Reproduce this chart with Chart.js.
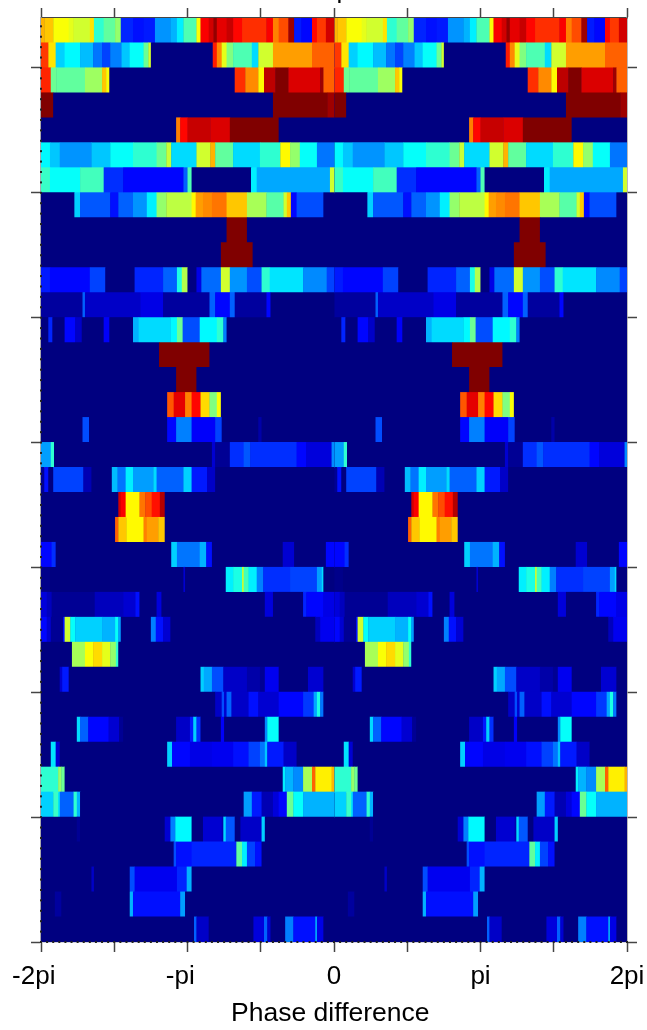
<!DOCTYPE html>
<html lang="en">
<head>
    <meta charset="UTF-8" />
    <title>Phase difference</title>
    <script src="https://cdn.jsdelivr.net/npm/chart.js"></script>
    <style>
        html, body { margin: 0; padding: 0; background: #fff; overflow: hidden; }
        canvas { display: block; filter: blur(0.6px); }
    </style>
</head>
<body>
    <canvas id="phaseChart" width="647" height="1030"></canvas>

    <script>
        // x axis, degrees (labelled in pi)
        const phaseMin = -360;
        const phaseMax = 360;
        const phaseStep = 90;
        const tickLabels = { '-360': '-2pi  ', '-180': '-pi  ', '0': '0', '180': 'pi', '360': '2pi' };

        const rowTicks = 5;
        const cutTitle = 'p';

        // each row, top to bottom: [phase where the run starts (0-360), level 0-100]
        // one period only, the plot shows it twice
        const row01 = [[0,70],[4,68],[15,62],[34,60],[40,58],[60,65],[65,42],[77,47],[91,52],[98,16],[113,14],[126,15],[140,27],[159,30],[167,36],[175,45],[191,62],[196,88],[206,92],[212,98],[216,90],[228,93],[236,87],[247,83],[277,88],[285,75],[292,80],[304,97],[311,15],[320,13],[333,87],[339,82],[350,92]];
        const row02 = [[0,82],[9,65],[18,33],[29,37],[48,31],[64,24],[75,19],[85,25],[99,32],[109,38],[126,48],[132,58],[135,0],[211,85],[216,74],[222,60],[228,50],[236,45],[259,34],[267,58],[285,72],[333,78]];
        const row03 = [[0,84],[12,48],[19,47],[54,53],[75,68],[80,62],[84,0],[238,83],[251,74],[267,63],[274,94],[288,100],[304,91],[343,97],[347,78]];
        const row04 = [[0,100],[15,0],[285,100],[352,97]];
        const row05 = [[0,0],[166,75],[171,87],[180,93],[208,91],[232,100],[292,0]];
        const row06 = [[0,37],[11,32],[23,27],[62,32],[85,38],[113,42],[142,48],[154,57],[160,34],[191,58],[208,70],[214,47],[236,34],[269,42],[294,63],[306,52],[318,38],[339,24]];
        const row07 = [[0,43],[11,38],[48,44],[77,17],[101,13],[175,22],[180,45],[185,0],[258,36],[265,29],[355,58]];
        const row08 = [[0,0],[41,33],[48,21],[85,14],[95,22],[113,27],[130,36],[142,52],[154,56],[185,63],[190,72],[199,74],[210,76],[228,68],[253,54],[277,46],[298,58],[302,68],[307,13],[314,20],[347,0]];
        const row09 = [[0,0],[228,100],[253,0]];
        const row10 = [[0,0],[221,100],[260,0]];
        const row11 = [[0,15],[11,13],[60,19],[79,0],[115,16],[150,22],[167,40],[173,55],[180,0],[191,10],[197,23],[221,58],[232,27],[253,20],[271,42],[281,35],[322,26],[351,19]];
        const row12 = [[0,3],[51,22],[54,7],[122,10],[150,3],[207,22],[214,13],[232,22],[238,3],[277,13],[282,0]];
        const row13 = [[0,0],[9,16],[14,0],[29,13],[42,7],[50,0],[77,12],[84,0],[113,30],[120,34],[159,37],[167,48],[174,20],[195,37],[216,42],[224,25],[228,0]];
        const row14 = [[0,0],[145,100],[207,0]];
        const row15 = [[0,0],[166,100],[191,0]];
        const row16 = [[0,0],[155,79],[163,90],[177,75],[185,87],[196,66],[207,50],[216,62],[221,0]];
        const row17 = [[0,0],[51,20],[59,0],[155,13],[166,25],[185,12],[214,19],[222,0],[267,4],[271,0]];
        const row18 = [[0,28],[12,42],[16,0],[210,8],[214,2],[232,17],[249,21],[257,17],[314,13],[326,9],[357,26]];
        const row19 = [[0,2],[4,14],[9,0],[15,19],[52,5],[62,0],[87,31],[94,24],[104,36],[113,28],[138,34],[142,22],[175,33],[185,15],[204,7],[214,0]];
        const row20 = [[0,0],[95,92],[98,88],[104,63],[121,76],[128,80],[136,86],[146,95],[152,0]];
        const row21 = [[0,0],[91,78],[95,68],[105,63],[126,75],[130,72],[144,68],[152,0]];
        const row22 = [[0,13],[13,17],[18,0],[160,33],[167,24],[195,30],[203,14],[210,0],[297,8],[311,0],[350,13]];
        const row23 = [[0,1],[11,0],[175,8],[177,0],[227,36],[236,40],[247,58],[249,44],[255,36],[265,25],[273,17],[306,19],[339,28],[345,34],[347,0]];
        const row24 = [[0,9],[7,6],[13,2],[66,6],[101,8],[116,14],[121,0],[142,9],[148,0],[275,9],[285,0],[322,16],[326,13],[347,10]];
        const row25 = [[0,13],[7,8],[12,2],[27,14],[29,58],[36,38],[42,33],[75,30],[91,38],[95,28],[98,0],[135,25],[141,14],[150,8],[159,0],[337,6],[343,11]];
        const row26 = [[0,0],[38,54],[54,62],[64,66],[75,60],[85,52],[92,42],[95,0]];
        const row27 = [[0,0],[23,8],[26,15],[34,0],[196,33],[200,29],[210,20],[224,7],[253,4],[269,2],[275,11],[292,0],[328,8],[347,0]];
        const row28 = [[0,0],[214,7],[222,20],[225,8],[228,22],[234,7],[255,14],[267,8],[292,13],[322,18],[335,29],[339,40],[343,24],[347,0]];
        const row29 = [[0,0],[44,34],[48,22],[58,13],[83,8],[96,2],[101,0],[166,7],[183,15],[187,33],[191,17],[196,0],[221,12],[225,0],[275,26],[278,38],[292,0]];
        const row30 = [[0,0],[12,35],[18,8],[23,0],[155,33],[161,13],[183,10],[210,11],[236,14],[255,19],[269,24],[275,32],[278,15],[298,7],[314,0]];
        const row31 = [[0,42],[21,52],[25,48],[29,0],[297,36],[300,30],[310,26],[322,54],[333,78],[337,64],[357,70]];
        const row32 = [[0,33],[15,43],[21,36],[23,22],[40,42],[44,30],[48,0],[249,28],[259,15],[271,5],[285,9],[292,13],[302,48],[310,38],[322,30]];
        const row33 = [[0,0],[44,2],[48,0],[152,8],[159,25],[165,37],[185,0],[199,8],[222,5],[224,34],[227,21],[238,0],[245,7],[271,33],[275,0]];
        const row34 = [[0,0],[163,20],[166,14],[185,16],[240,47],[247,36],[253,19],[263,14],[271,0]];
        const row35 = [[0,0],[62,7],[65,0],[109,20],[115,11],[167,16],[179,30],[185,0]];
        const row36 = [[0,0],[17,3],[25,0],[109,30],[113,14],[171,28],[177,0]];
        const row37 = [[0,0],[188,22],[191,7],[206,0],[261,9],[274,22],[278,8],[282,0],[300,25],[310,14],[337,30],[339,10],[347,0]];

        const rows = [row01, row02, row03, row04, row05, row06, row07, row08, row09, row10,
                      row11, row12, row13, row14, row15, row16, row17, row18, row19, row20,
                      row21, row22, row23, row24, row25, row26, row27, row28, row29, row30,
                      row31, row32, row33, row34, row35, row36, row37];

        // jet colormap, level 0-100
        function jet(level) {
            const v = level / 100;
            const ramp = (a) => Math.round(255 * Math.max(0, Math.min(1, a)));
            const r = ramp(Math.min(4 * v - 1.5, 4.5 - 4 * v));
            const g = ramp(Math.min(4 * v - 0.5, 3.5 - 4 * v));
            const b = ramp(Math.min(4 * v + 0.5, 2.5 - 4 * v));
            return 'rgb(' + r + ',' + g + ',' + b + ')';
        }

        // one floating bar per run, both periods. small overlap hides seams between bars
        const bars = [];
        rows.forEach((runs, i) => {
            [phaseMin, 0].forEach((offset) => {
                runs.forEach((run, j) => {
                    const end = j + 1 < runs.length ? runs[j + 1][0] : 360;
                    bars.push({
                        x: [offset + run[0], offset + end + 0.5],
                        y: rows.length - i - 0.5,
                        level: run[1]
                    });
                });
            });
        });

        // plot background, little dots along the left and bottom edges,
        // and the title cut off by the window
        const edgeMarks = {
            id: 'edgeMarks',
            beforeDatasetsDraw(chart) {
                const a = chart.chartArea;
                chart.ctx.fillStyle = jet(0);
                chart.ctx.fillRect(a.left, a.top, a.right - a.left, a.bottom - a.top);
            },
            afterDraw(chart) {
                const ctx = chart.ctx;
                const xs = chart.scales.x;
                const ys = chart.scales.y;
                ctx.save();
                ctx.fillStyle = '#222';
                for (let v = phaseMin; v <= phaseMax; v += 7.5) {
                    ctx.fillRect(xs.getPixelForValue(v) - 1, ys.bottom - 1, 2, 2);
                }
                for (let v = 0; v <= rows.length; v += rowTicks / 12) {
                    ctx.fillRect(xs.left - 1, ys.getPixelForValue(v) - 1, 2, 2);
                }
                ctx.font = '26px "Liberation Sans"';
                ctx.textAlign = 'left';
                ctx.textBaseline = 'alphabetic';
                ctx.fillStyle = '#000';
                ctx.fillText(cutTitle, 336.5, -2.5);
                ctx.restore();
            }
        };

        function axisLook(size, borderColor) {
            return {
                grid: { drawOnChartArea: false, drawTicks: true, tickLength: 10, tickColor: '#444', tickWidth: 1.5, offset: false },
                border: { color: borderColor, width: 1.5 },
                afterFit(scale) {
                    if (scale.isHorizontal()) scale.height = size;
                    else scale.width = size;
                    // labels may hang over the plot edges
                    scale.paddingLeft = scale.paddingRight = 0;
                    scale.paddingTop = scale.paddingBottom = 0;
                }
            };
        }

        new Chart(document.getElementById('phaseChart').getContext('2d'), {
            type: 'bar',
            data: {
                datasets: [{
                    data: bars,
                    backgroundColor: (c) => jet(c.raw ? c.raw.level : 0),
                    borderWidth: 0,
                    barPercentage: 1.04,
                    categoryPercentage: 1
                }]
            },
            plugins: [edgeMarks],
            options: {
                indexAxis: 'y',
                responsive: false,
                animation: false,
                layout: { padding: 0 },
                plugins: { legend: { display: false }, tooltip: { enabled: false } },
                scales: {
                    x: {
                        type: 'linear',
                        position: 'bottom',
                        min: phaseMin,
                        max: phaseMax,
                        ...axisLook(88, '#a8a8b0'),
                        ticks: {
                            stepSize: phaseStep,
                            maxRotation: 0,
                            autoSkip: false,
                            padding: 9,
                            color: '#000',
                            font: { family: '"Liberation Sans"', size: 26 },
                            callback: (v) => tickLabels[v] || ''
                        },
                        title: {
                            display: true,
                            text: 'Phase difference ',
                            color: '#000',
                            font: { family: '"Liberation Sans"', size: 26.5 },
                            padding: { top: 0, bottom: 0 }
                        }
                    },
                    xTop: {
                        type: 'linear',
                        axis: 'x',
                        position: 'top',
                        min: phaseMin,
                        max: phaseMax,
                        ...axisLook(18, '#444'),
                        ticks: { stepSize: phaseStep, display: false }
                    },
                    y: {
                        type: 'linear',
                        position: 'left',
                        offset: false,
                        min: 0,
                        max: rows.length,
                        ...axisLook(41, '#a8a8b0'),
                        ticks: { stepSize: rowTicks, includeBounds: false, display: false }
                    },
                    yRight: {
                        type: 'linear',
                        axis: 'y',
                        position: 'right',
                        offset: false,
                        min: 0,
                        max: rows.length,
                        ...axisLook(20, '#777'),
                        ticks: { stepSize: rowTicks, includeBounds: false, display: false }
                    }
                }
            }
        });
    </script>
</body>
</html>
